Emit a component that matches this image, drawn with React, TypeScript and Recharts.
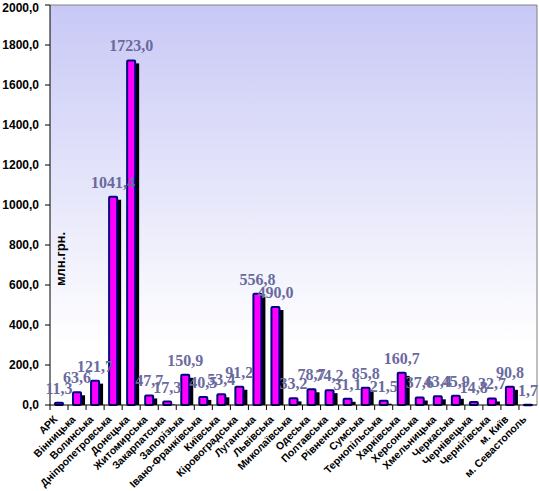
import React from 'react';
import { BarChart, Bar, XAxis, YAxis, LabelList, Label, ReferenceLine, CartesianGrid } from 'recharts';

const regions = [
  'АРК', 'Вінницька', 'Волинська', 'Дніпропетровська', 'Донецька', 'Житомирська',
  'Закарпатська', 'Запорізька', 'Івано-Франківська', 'Київська', 'Кіровоградська',
  'Луганська', 'Львівська', 'Миколаївська', 'Одеська', 'Полтавська', 'Рівненська',
  'Сумська', 'Тернопільська', 'Харківська', 'Херсонська', 'Хмельницька', 'Черкаська',
  'Чернівецька', 'Чернігівська', 'м. Київ', 'м. Севастополь',
];
const values = [
  11.3, 63.6, 121.7, 1041.4, 1723.0, 47.7,
  17.3, 150.9, 40.5, 53.4, 91.2,
  556.8, 490.0, 33.2, 78.7, 74.2, 31.1,
  85.8, 21.5, 160.7, 37.6, 43.4, 45.9,
  14.8, 32.7, 90.8, 1.7,
];
const yTicks = [0, 200, 400, 600, 800, 1000, 1200, 1400, 1600, 1800, 2000];
const yLabel = 'млн.грн.';

const data = regions.map((name, i) => ({ name, value: values[i] }));

const W = 539;
const H = 491;
const PLOT_LEFT = 50;
const PLOT_RIGHT = 537;
const HALF_BAND = (PLOT_RIGHT - PLOT_LEFT) / regions.length / 2;
const fmt = (v: number) => v.toFixed(1).replace('.', ',');

const BarShape = (props: any) => {
  const { x, y, width, height } = props;
  if (x == null || y == null) return null;
  const h = Math.max(height, 0.5);
  return (
    <g>
      <rect x={x + 3} y={y + 3} width={width + 1} height={Math.max(h - 3, 0)} fill="#000000" />
      <rect x={x} y={y} width={width} height={h} fill="#FF00FF" stroke="#000080" strokeWidth={2} rx={1} />
    </g>
  );
};

const XTick = (props: any) => {
  const { x, payload } = props;
  return (
    <g>
      <line x1={x - HALF_BAND} x2={x - HALF_BAND} y1={405} y2={410} stroke="#000" strokeWidth={1} />
      <g transform={`translate(${x - 1},${420})`}>
        <text
          x={0}
          y={0}
          textAnchor="end"
          transform="rotate(-45)"
          fontFamily="'Liberation Sans', Arial, sans-serif"
          fontWeight="bold"
          fontSize={10.5}
          fill="#000"
        >
          {payload.value}
        </text>
      </g>
    </g>
  );
};

const ValueLabel = (props: any) => {
  const { x, y, width, value } = props;
  return (
    <text
      x={x + width / 2}
      y={y - 9}
      textAnchor="middle"
      fontFamily="'Liberation Serif', 'Times New Roman', serif"
      fontWeight="bold"
      fontSize={16}
      fill="#6A6A9E"
    >
      {fmt(value)}
    </text>
  );
};

export default function App() {
  return (
    <div style={{ position: 'absolute', left: 0, top: 0, width: W, height: H, background: '#fff' }}>
      <BarChart width={W} height={H} data={data} margin={{ top: 5, right: 0, bottom: 0, left: 0 }}>
        <defs>
          <linearGradient id="bgGrad" x1="0" y1="0" x2="0" y2="1">
            <stop offset="0%" stopColor="#C8C8F6" />
            <stop offset="85%" stopColor="#FFFFFF" />
            <stop offset="100%" stopColor="#FFFFFF" />
          </linearGradient>
        </defs>
        <CartesianGrid horizontal={false} vertical={false} fill="url(#bgGrad)" fillOpacity={1} />
        <XAxis
          dataKey="name"
          interval={0}
          height={86}
          tickLine={false}
          axisLine={{ stroke: '#000' }}
          tick={<XTick />}
        />
        <YAxis
          width={50}
          domain={[0, 2000]}
          ticks={yTicks}
          tickFormatter={fmt}
          tickSize={5}
          tickMargin={6}
          axisLine={{ stroke: '#000' }}
          tickLine={{ stroke: '#000' }}
          tick={{ fontSize: 12, fontWeight: 'bold', fill: '#000', fontFamily: "'Liberation Sans', Arial, sans-serif" }}
        >
          <Label
            content={(p: any) => {
              const vb = p.viewBox || { x: 0, y: 5, width: 50, height: 400 };
              const cx = vb.x + vb.width + 10;
              const cy = vb.y + vb.height * 0.635;
              return (
                <text
                  x={cx}
                  y={cy}
                  textAnchor="middle"
                  dominantBaseline="central"
                  transform={`rotate(-90, ${cx}, ${cy})`}
                  fontFamily="'Liberation Sans', Arial, sans-serif"
                  fontWeight="bold"
                  fontSize={13}
                  fill="#000"
                >
                  {yLabel}
                </text>
              );
            }}
          />
        </YAxis>
        <YAxis
          yAxisId="right"
          orientation="right"
          width={2}
          domain={[0, 2000]}
          tick={false}
          tickLine={false}
          axisLine={{ stroke: '#808080' }}
        />
        <ReferenceLine y={2000} stroke="#808080" />
        <Bar dataKey="value" barSize={8} shape={<BarShape />} isAnimationActive={false}>
          <LabelList dataKey="value" content={<ValueLabel />} />
        </Bar>
      </BarChart>
    </div>
  );
}
